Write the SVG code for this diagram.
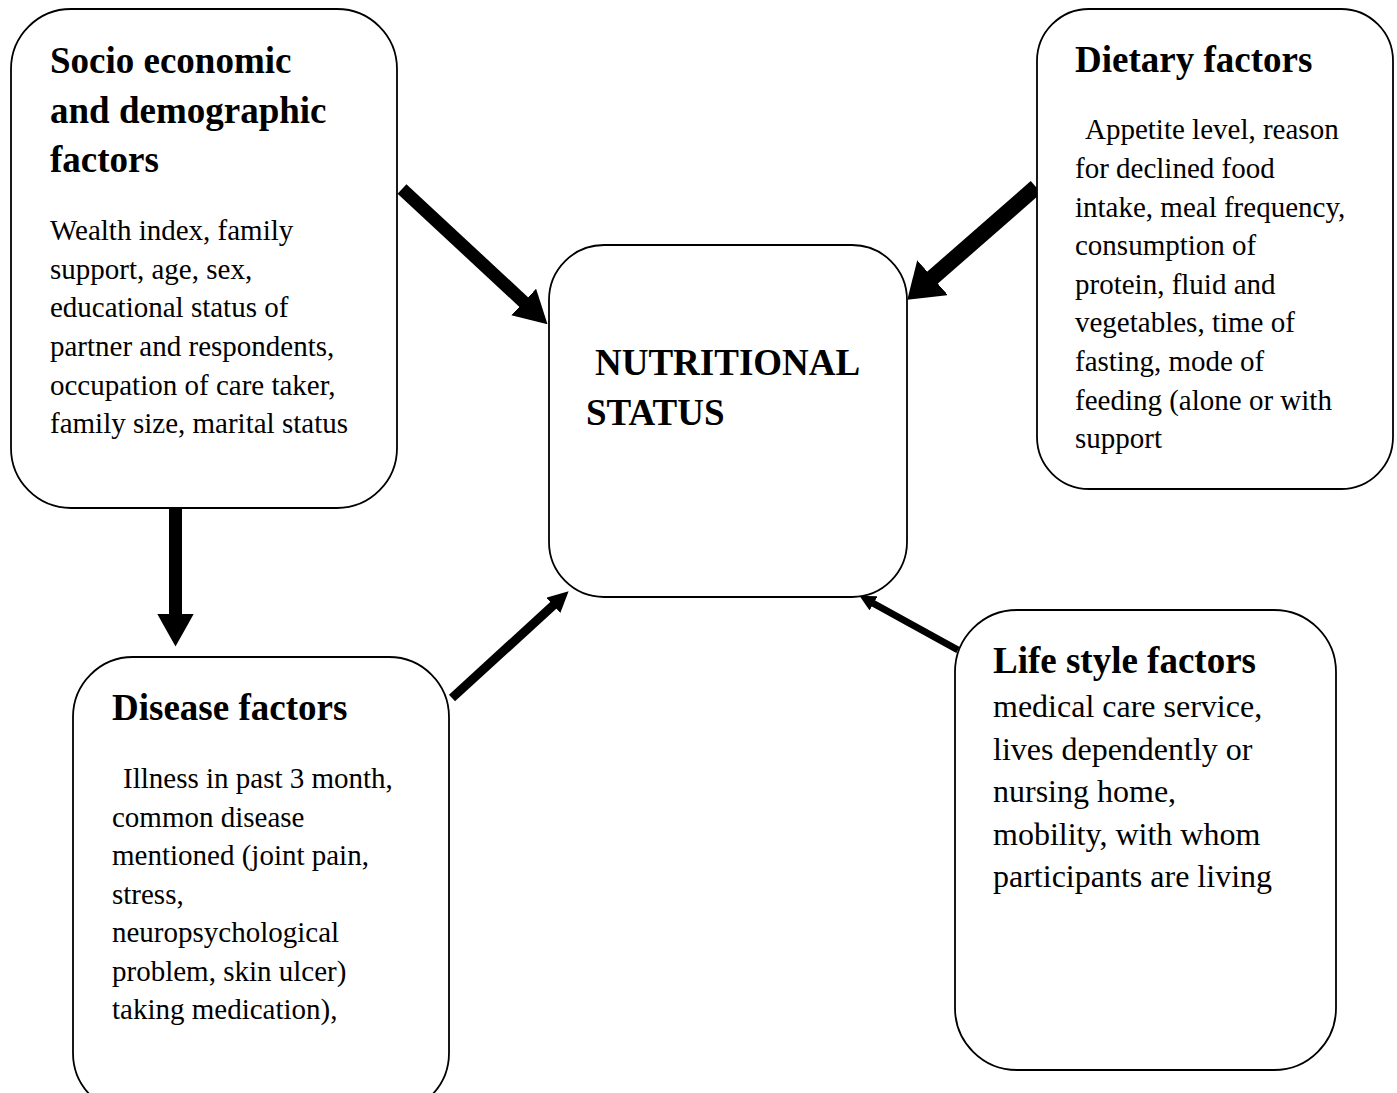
<svg xmlns="http://www.w3.org/2000/svg" width="1397" height="1093" viewBox="0 0 1397 1093">
<style>
.box{fill:#fff;stroke:#000;stroke-width:1.8}
.t{font-family:"Liberation Serif","Times New Roman",serif;font-weight:bold;font-size:37px;fill:#000}
.b{font-family:"Liberation Serif","Times New Roman",serif;font-size:29px;fill:#000}
.b2{font-family:"Liberation Serif","Times New Roman",serif;font-size:32px;fill:#000}
.c{fill:none;stroke:#000;stroke-linecap:butt}
</style>
<defs>
<marker id="mA" viewBox="0 0 10 10" preserveAspectRatio="none" refX="0.3" refY="5" markerUnits="strokeWidth" markerWidth="2.5" markerHeight="2.8" orient="auto"><path d="M0,0 L10,5 L0,10 Z" fill="#000"/></marker>
<marker id="mB" viewBox="0 0 10 10" preserveAspectRatio="none" refX="0.3" refY="5" markerUnits="strokeWidth" markerWidth="2.1" markerHeight="2.9" orient="auto"><path d="M0,0 L10,5 L0,10 Z" fill="#000"/></marker>
<marker id="mC" viewBox="0 0 10 10" preserveAspectRatio="none" refX="0.3" refY="5" markerUnits="strokeWidth" markerWidth="2.3" markerHeight="2.3" orient="auto"><path d="M0,0 L10,5 L0,10 Z" fill="#000"/></marker>
</defs>
<rect width="1397" height="1093" fill="#fff"/>
<g id="connectors">
<path class="c" d="M402,189 L524.4,302.7" stroke-width="13" marker-end="url(#mA)"/>
<path class="c" d="M1036,187 L931.8,278.3" stroke-width="16" marker-end="url(#mB)"/>
<path class="c" d="M175.5,508 L175.5,615" stroke-width="13" marker-end="url(#mA)"/>
<path class="c" d="M452,698 L553.8,604.9" stroke-width="9" marker-end="url(#mC)"/>
<path class="c" d="M958,650 L873.1,603.2" stroke-width="7" marker-end="url(#mC)"/>
</g>
<g id="socio">
<rect class="box" x="11" y="9" width="386" height="499" rx="60" ry="60"/>
<text class="t" x="50" y="73">Socio economic</text>
<text class="t" x="50" y="123">and demographic</text>
<text class="t" x="50" y="172">factors</text>
<text class="b" x="50" y="240">Wealth index, family</text>
<text class="b" x="50" y="278.6">support, age, sex,</text>
<text class="b" x="50" y="317">educational status of</text>
<text class="b" x="50" y="356">partner and respondents,</text>
<text class="b" x="50" y="394.6">occupation of care taker,</text>
<text class="b" x="50" y="433">family size, marital status</text>
</g>
<g id="dietary">
<rect class="box" x="1037" y="9" width="356" height="480" rx="52" ry="52"/>
<text class="t" x="1075" y="72">Dietary factors</text>
<text class="b" x="1085" y="139.3">Appetite level, reason</text>
<text class="b" x="1075" y="177.9">for declined food</text>
<text class="b" x="1075" y="216.5">intake, meal frequency,</text>
<text class="b" x="1075" y="255">consumption of</text>
<text class="b" x="1075" y="293.7">protein, fluid and</text>
<text class="b" x="1075" y="332.3">vegetables, time of</text>
<text class="b" x="1075" y="371">fasting, mode of</text>
<text class="b" x="1075" y="409.6">feeding (alone or with</text>
<text class="b" x="1075" y="448">support</text>
</g>
<g id="nutritional">
<rect class="box" x="549" y="245" width="358" height="352" rx="55" ry="55"/>
<text class="t" x="595" y="375">NUTRITIONAL</text>
<text class="t" x="586" y="425">STATUS</text>
</g>
<g id="disease">
<rect class="box" x="73" y="657" width="376" height="456" rx="60" ry="60"/>
<text class="t" x="112" y="720">Disease factors</text>
<text class="b" x="123" y="788">Illness in past 3 month,</text>
<text class="b" x="112" y="826.5">common disease</text>
<text class="b" x="112" y="865">mentioned (joint pain,</text>
<text class="b" x="112" y="903.5">stress,</text>
<text class="b" x="112" y="942">neuropsychological</text>
<text class="b" x="112" y="980.5">problem, skin ulcer)</text>
<text class="b" x="112" y="1019">taking medication),</text>
</g>
<g id="lifestyle">
<rect class="box" x="955" y="610" width="381" height="460" rx="62" ry="62"/>
<text class="t" x="993" y="673">Life style factors</text>
<text class="b2" x="993" y="717">medical care service,</text>
<text class="b2" x="993" y="759.5">lives dependently or</text>
<text class="b2" x="993" y="802">nursing home,</text>
<text class="b2" x="993" y="844.5">mobility, with whom</text>
<text class="b2" x="993" y="887">participants are living</text>
</g>
</svg>
